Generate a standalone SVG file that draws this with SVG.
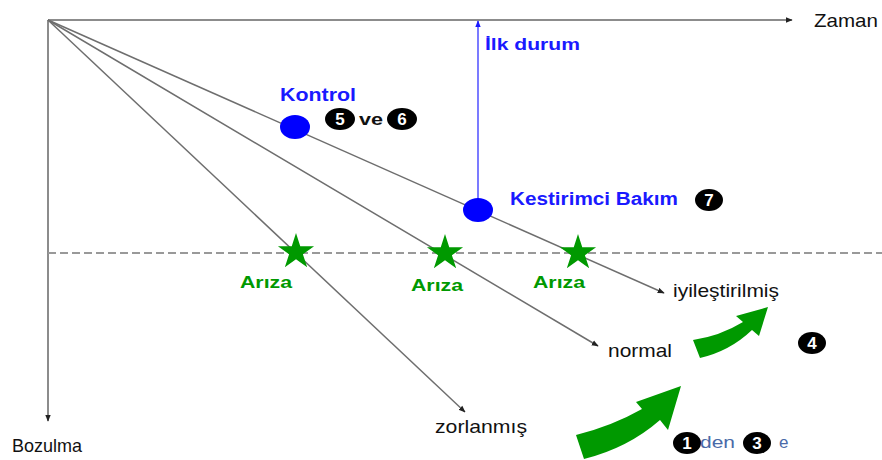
<svg xmlns="http://www.w3.org/2000/svg" width="882" height="460" viewBox="0 0 882 460">
<defs>
<marker id="ah" viewBox="0 0 10 10" refX="9" refY="5" markerWidth="7" markerHeight="7" orient="auto" markerUnits="userSpaceOnUse"><path d="M0,1 L10,5 L0,9 Z" fill="#222"/></marker>
<marker id="ahb" viewBox="0 0 10 10" refX="9" refY="5" markerWidth="7" markerHeight="7" orient="auto" markerUnits="userSpaceOnUse"><path d="M0,1 L10,5 L0,9 Z" fill="#1a1aff"/></marker>
<symbol id="star" viewBox="-1 -1 2 2" overflow="visible"><polygon points="0,-1 0.2245,-0.309 0.951,-0.309 0.3633,0.118 0.5878,0.809 0,0.382 -0.5878,0.809 -0.3633,0.118 -0.951,-0.309 -0.2245,-0.309" fill="#009900"/></symbol>
</defs>
<style>
.ax{stroke:#666;stroke-width:1.5;fill:none}
.ln{stroke:#6e6e6e;stroke-width:1.5;fill:none}
.t{font-family:"Liberation Sans",Arial,sans-serif;fill:#111}
.b{font-family:"Liberation Sans",Arial,sans-serif;font-weight:bold;fill:#1a1aff}
.g{font-family:"Liberation Sans",Arial,sans-serif;font-weight:bold;fill:#009900;font-size:17px}
.num{font-family:"Liberation Sans",Arial,sans-serif;fill:#fff;font-size:17px;font-weight:bold;text-anchor:middle}
.dot{fill:#0000ff}
.garr{fill:#009900}
</style>
<rect width="882" height="460" fill="#fff"/>
<g id="connectors">
<line class="ax" x1="48" y1="20" x2="792" y2="20" marker-end="url(#ah)"/>
<line class="ax" x1="48" y1="20" x2="48" y2="421" marker-end="url(#ah)"/>
<line x1="48" y1="253" x2="882" y2="253" stroke="#999" stroke-width="2" stroke-dasharray="8,4"/>
<line class="ln" x1="48" y1="20" x2="465" y2="412" marker-end="url(#ah)"/>
<line class="ln" x1="48" y1="20" x2="598" y2="346" marker-end="url(#ah)"/>
<line class="ln" x1="48" y1="20" x2="664" y2="293" marker-end="url(#ah)"/>
<line x1="478" y1="200" x2="478" y2="21" stroke="#3333ff" stroke-width="1.3" marker-end="url(#ahb)"/>
</g>
<g id="axis-labels">
<text class="t" x="814" y="27" font-size="19" textLength="64" lengthAdjust="spacingAndGlyphs">Zaman</text>
<text class="t" x="12" y="452" font-size="19" textLength="70" lengthAdjust="spacingAndGlyphs">Bozulma</text>
</g>
<g id="kontrol">
<ellipse class="dot" cx="295" cy="127" rx="15" ry="12"/>
<text class="b" x="280" y="101" font-size="18" textLength="76" lengthAdjust="spacingAndGlyphs">Kontrol</text>
<ellipse cx="340" cy="119" rx="15" ry="11" fill="#000"/>
<text class="num" x="340" y="125">5</text>
<text class="t" x="359" y="125" font-size="17" font-weight="bold" textLength="24" lengthAdjust="spacingAndGlyphs">ve</text>
<ellipse cx="402" cy="119" rx="15" ry="11" fill="#000"/>
<text class="num" x="402" y="125">6</text>
</g>
<g id="kestirimci">
<ellipse class="dot" cx="478" cy="210" rx="15" ry="12"/>
<text class="b" x="510" y="205" font-size="18" textLength="168" lengthAdjust="spacingAndGlyphs">Kestirimci Bakım</text>
<ellipse cx="709" cy="200" rx="14" ry="11" fill="#000"/>
<text class="num" x="709" y="206">7</text>
</g>
<g id="ilk-durum">
<text class="b" x="485" y="50" font-size="17" textLength="95" lengthAdjust="spacingAndGlyphs">İlk durum</text>
</g>
<g id="ariza1">
<use href="#star" x="277" y="233" width="38" height="38"/>
<text class="g" x="266" y="288" text-anchor="middle" textLength="52" lengthAdjust="spacingAndGlyphs">Arıza</text>
</g>
<g id="ariza2">
<use href="#star" x="426" y="234" width="38" height="38"/>
<text class="g" x="437" y="291" text-anchor="middle" textLength="52" lengthAdjust="spacingAndGlyphs">Arıza</text>
</g>
<g id="ariza3">
<use href="#star" x="559" y="234" width="38" height="38"/>
<text class="g" x="559" y="288" text-anchor="middle" textLength="52" lengthAdjust="spacingAndGlyphs">Arıza</text>
</g>
<g id="zorlanmis">
<text class="t" x="435" y="433" font-size="19" textLength="92" lengthAdjust="spacingAndGlyphs">zorlanmış</text>
</g>
<g id="normal">
<text class="t" x="608" y="357" font-size="19" textLength="64" lengthAdjust="spacingAndGlyphs">normal</text>
</g>
<g id="iyilestirilmis">
<text class="t" x="673" y="297" font-size="19" textLength="106" lengthAdjust="spacingAndGlyphs">iyileştirilmiş</text>
</g>
<g id="arrows">
<path class="garr" d="M576,435 Q612,426 642,409 L636,402 L681,386 L668,430 L660,420 Q628,448 584,459 Z"/>
<path class="garr" d="M693,340 Q720,336 743,322 L736,316 L768,307 L759,336 L752,330 Q730,351 700,358 Z"/>
<ellipse cx="812" cy="343" rx="14" ry="11" fill="#000"/>
<text class="num" x="812" y="349">4</text>
</g>
<g id="legend">
<ellipse cx="687" cy="443" rx="14" ry="11" fill="#000"/>
<text class="num" x="687" y="449">1</text>
<text x="700" y="448" font-family="Liberation Sans,Arial,sans-serif" font-size="17" fill="#4a6aa8" textLength="35" lengthAdjust="spacingAndGlyphs">den</text>
<ellipse cx="757" cy="443" rx="14" ry="11" fill="#000"/>
<text class="num" x="757" y="449">3</text>
<text x="779" y="448" font-family="Liberation Sans,Arial,sans-serif" font-size="17" fill="#4a6aa8">e</text>
</g>
</svg>
